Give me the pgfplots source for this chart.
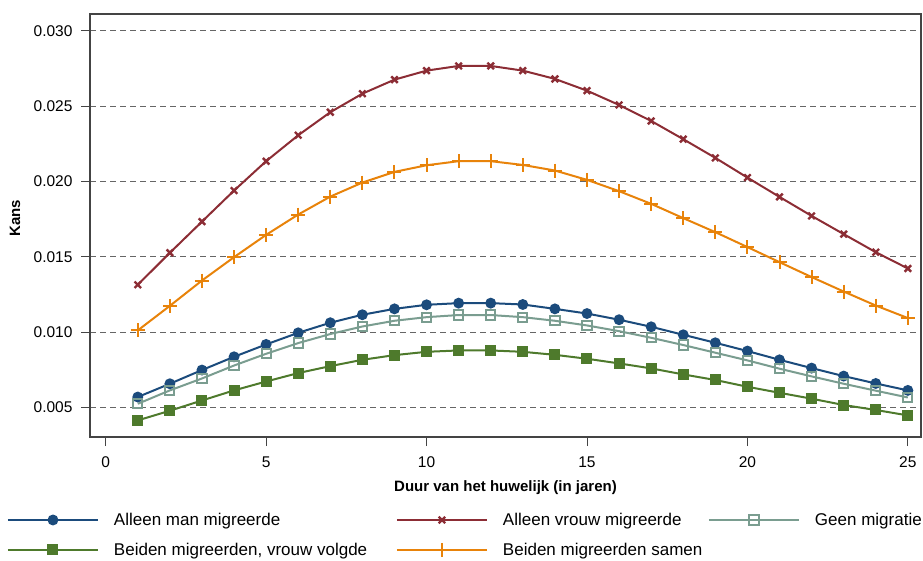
\documentclass[border=0pt]{standalone}
\usepackage{fontspec}
\setmainfont{Liberation Sans}
\usepackage{pgfplots}
\pgfplotsset{compat=1.18}

\definecolor{cblue}{HTML}{1B4B7C}
\definecolor{cred}{HTML}{8C2D35}
\definecolor{corange}{HTML}{E8830A}
\definecolor{cgreen}{HTML}{4E7A2C}
\definecolor{csage}{HTML}{7A9D90}
\definecolor{cgrid}{HTML}{666666}
\definecolor{cframe}{HTML}{444444}

\begin{document}
\begin{tikzpicture}[x=1pt,y=1pt]
\begin{axis}[
    at={(90pt,123pt)}, anchor=south west,
    scale only axis,
    width=831pt, height=423pt,
    xmin=-0.489, xmax=25.41,
    ymin=0.003037, ymax=0.031107,
    xtick={0,5,10,15,20,25},
    ytick={0.005,0.010,0.015,0.020,0.025,0.030},
    scaled y ticks=false,
    /pgf/number format/assume math mode=true,
    tick label style={font=\fontsize{15.5}{17}\selectfont, text=black},
    yticklabel style={xshift=-5pt, /pgf/number format/.cd, fixed, fixed zerofill, precision=3},
    xticklabel style={yshift=-7pt},
    xtick pos=bottom, ytick pos=left,
    tick align=outside,
    major tick length=9pt,
    tick style={cframe, line width=0.9pt},
    axis line style={cframe, line width=1.2pt},
    ymajorgrids,
    major grid style={cgrid, dash pattern=on 6pt off 4pt, line width=0.9pt},
    xlabel={\textbf{Duur van het huwelijk (in jaren)}},
    ylabel={\textbf{Kans}},
    xlabel style={font=\fontsize{15}{17}\selectfont, at={(axis description cs:0.5,0)}, anchor=center, yshift=-51pt},
    every axis y label/.style={font=\fontsize{15}{17}\selectfont, at={(axis description cs:-0.0903,0.517)}, rotate=90, anchor=center},
    legend columns=3,
    legend cell align=left,
    legend image code/.code={%
        \draw[mark repeat=2, mark phase=2, #1] plot coordinates {(0pt,0pt) (45pt,0pt) (90pt,0pt)};},
    legend style={
        at={(axis description cs:-0.0999,-0.182)}, anchor=north west,
        draw=none, fill=none, inner sep=0pt, outer sep=0pt,
        font=\fontsize{17}{19}\selectfont,
        nodes={inner sep=0pt, text height=12pt, text depth=0pt},
        row sep=17pt,
        /tikz/every odd column/.append style={column sep=15pt},
        /tikz/every even column/.append style={column sep=0pt},
    },
]

% Alleen man migreerde
\addplot[cblue, line width=2pt, mark=*, mark size=4.4pt] coordinates {
    (1,0.00569) (2,0.00657) (3,0.00748) (4,0.00836) (5,0.00918)
    (6,0.00995) (7,0.01062) (8,0.01115) (9,0.01154) (10,0.01181)
    (11,0.01192) (12,0.01192) (13,0.01183) (14,0.01154) (15,0.01123)
    (16,0.01082) (17,0.01035) (18,0.00982) (19,0.00929) (20,0.00874)
    (21,0.00816) (22,0.00761) (23,0.00708) (24,0.00659) (25,0.00613)
};
\addlegendentry{\makebox[282pt][l]{Alleen man migreerde}}

% Alleen vrouw migreerde
\addplot[cred, line width=2pt, mark=x, mark size=4.6pt, mark options={line width=2.4pt}] coordinates {
    (1,0.01314) (2,0.01526) (3,0.01733) (4,0.01939) (5,0.02134)
    (6,0.02306) (7,0.02459) (8,0.02582) (9,0.02675) (10,0.02735)
    (11,0.02766) (12,0.02766) (13,0.02735) (14,0.02680) (15,0.02602)
    (16,0.02507) (17,0.02401) (18,0.02280) (19,0.02156) (20,0.02025)
    (21,0.01897) (22,0.01771) (23,0.01650) (24,0.01530) (25,0.01422)
};
\addlegendentry{\makebox[205pt][l]{Alleen vrouw migreerde}}

% Geen migratie
\addplot[csage, line width=2pt, mark=square, mark size=4.6pt, mark options={line width=2pt, fill=white}] coordinates {
    (1,0.00524) (2,0.00613) (3,0.00692) (4,0.00778) (5,0.00856)
    (6,0.00927) (7,0.00987) (8,0.01037) (9,0.01075) (10,0.01099)
    (11,0.01113) (12,0.01113) (13,0.01099) (14,0.01075) (15,0.01044)
    (16,0.01006) (17,0.00962) (18,0.00914) (19,0.00863) (20,0.00812)
    (21,0.00757) (22,0.00706) (23,0.00657) (24,0.00611) (25,0.00566)
};
\addlegendentry{Geen migratie}

% Beiden migreerden, vrouw volgde
\addplot[cgreen, line width=2pt, mark=square*, mark size=4.5pt] coordinates {
    (1,0.00414) (2,0.00478) (3,0.00546) (4,0.00613) (5,0.00672)
    (6,0.00728) (7,0.00774) (8,0.00816) (9,0.00847) (10,0.00869)
    (11,0.00878) (12,0.00878) (13,0.00869) (14,0.00849) (15,0.00823)
    (16,0.00792) (17,0.00759) (18,0.00719) (19,0.00682) (20,0.00637)
    (21,0.00597) (22,0.00558) (23,0.00516) (24,0.00483) (25,0.00447)
};
\addlegendentry{\makebox[282pt][l]{Beiden migreerden, vrouw volgde}}

% Beiden migreerden samen
\addplot[corange, line width=2pt, mark=+, mark size=7pt, mark options={line width=2pt}] coordinates {
    (1,0.01011) (2,0.01174) (3,0.01342) (4,0.01497) (5,0.01645)
    (6,0.01780) (7,0.01899) (8,0.01992) (9,0.02063) (10,0.02107)
    (11,0.02134) (12,0.02134) (13,0.02109) (14,0.02072) (15,0.02010)
    (16,0.01935) (17,0.01851) (18,0.01756) (19,0.01663) (20,0.01564)
    (21,0.01464) (22,0.01365) (23,0.01269) (24,0.01176) (25,0.01093)
};
\addlegendentry{\makebox[205pt][l]{Beiden migreerden samen}}

\end{axis}
\pgfresetboundingbox
\useasboundingbox (0pt,0pt) rectangle (923pt,560pt);
\end{tikzpicture}
\end{document}
